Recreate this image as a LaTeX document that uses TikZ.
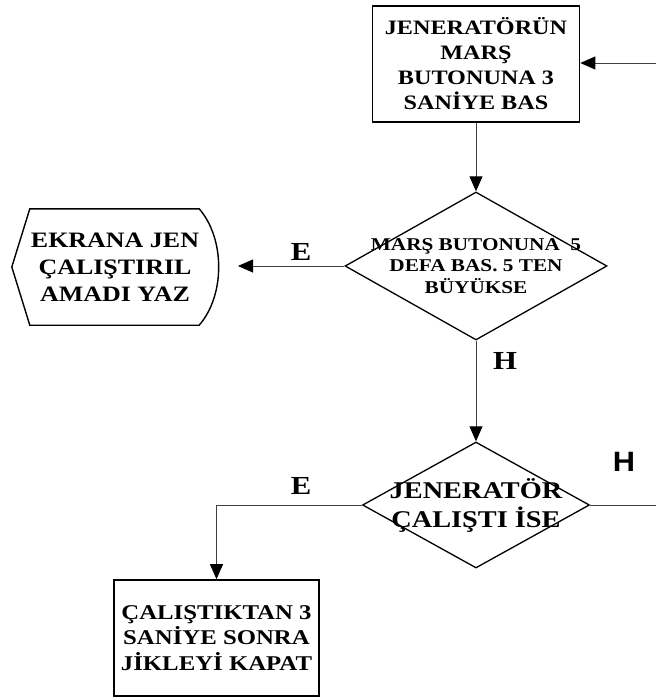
\documentclass[tikz,border=0pt]{standalone}
\usepackage{fontspec}
\setmainfont{Liberation Serif}[FakeStretch=1.18]
\newfontfamily\labelsans{Liberation Sans}[FakeStretch=1.1]
\usetikzlibrary{shapes.geometric,arrows.meta}
\tikzstyle{block} = [draw, rectangle, line width=1.6pt, minimum width=207pt, minimum height=116pt, align=center, font=\bfseries\fontsize{20.5}{25}\selectfont]
\tikzstyle{decision} = [draw, diamond, line width=1.3pt, inner sep=0pt]
\tikzstyle{display} = [rectangle, minimum width=206pt, minimum height=116pt, align=center, font=\bfseries\fontsize{22}{27}\selectfont]
\tikzstyle{answer} = [font=\bfseries\fontsize{26}{30}\selectfont]
\tikzstyle{line} = [draw, black!75, line width=0.9pt]
\tikzstyle{output} = [coordinate]

\begin{document}
\begin{tikzpicture}[x=1pt, y=-1pt, >={Triangle[length=15pt,width=13pt,color=black]}]
    \useasboundingbox (0,0) rectangle (656,698);

    % We start by placing the blocks
    \node [block] (start) at (476,64) {JENERATÖRÜN\\MARŞ\\BUTONUNA 3\\SANİYE BAS};
    \node [decision, minimum width=262pt, minimum height=148pt] (check) at (476,266) {};
    \node [align=center, font=\bfseries\fontsize{18}{21.5}\selectfont] (checktext) at (check) {MARŞ BUTONUNA~ 5\\DEFA BAS. 5 TEN\\BÜYÜKSE};
    \node [display] (msg) at (115,267) {EKRANA JEN\\ÇALIŞTIRIL\\AMADI YAZ};
    \draw [line width=1.4pt] (msg.west) -- ([xshift=18pt]msg.north west) -- ([xshift=-19pt]msg.north east)
        .. controls ([xshift=7pt,yshift=-30pt]msg.north east) and ([xshift=7pt,yshift=30pt]msg.south east) .. ([xshift=-19pt]msg.south east)
        -- ([xshift=18pt]msg.south west) -- cycle;
    \node [decision, minimum width=227pt, minimum height=126pt] (run) at (476,505) {};
    \node [align=center, font=\bfseries\fontsize{24}{29}\selectfont] (runtext) at (run) {JENERATÖR\\ÇALIŞTI İSE};
    \node [block, minimum width=205pt, font=\bfseries\fontsize{21}{25.5}\selectfont] (close) at (216.5,638) {ÇALIŞTIKTAN 3\\SANİYE SONRA\\JİKLEYİ KAPAT};

    % Free ends of the connectors
    \node [output] (loop) at (656,63) {};
    \node [output] (msgin) at (238,266) {};
    \node [output] (back) at (656,505) {};

    \draw [line, ->] (loop) -- (loop -| start.east);
    \draw [line, ->] (start) -- (check);
    \draw [line, ->] (check.west) -- (msgin);
    \draw [line, ->] (check.south) -- (run.north);
    \draw [line, ->] (run.west) -| (close.north);
    \draw [line] (run.east) -- (back);

    \node [answer] (yes1) at (301,252) {E};
    \node [answer] (no1) at (505,361) {H};
    \node [answer] (yes2) at (301,486) {E};
    \node [font=\labelsans\bfseries\fontsize{28}{32}\selectfont] (no2) at (624,462) {H};

\end{tikzpicture}
\end{document}
